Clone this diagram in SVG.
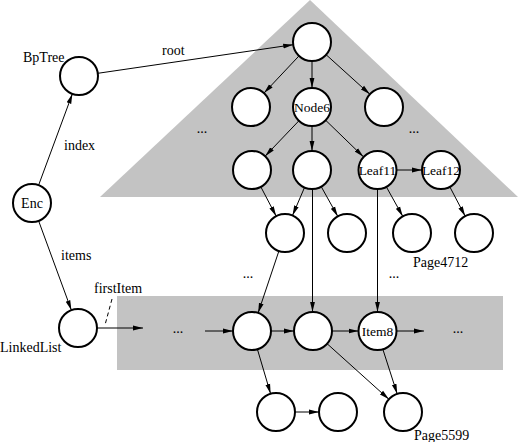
<svg xmlns="http://www.w3.org/2000/svg" width="519" height="442" viewBox="0 0 519 442">
<style>
.n{fill:#fff;stroke:#000;stroke-width:2}
.e{stroke:#000;stroke-width:1;fill:none}
.t{font-family:"Liberation Serif","Times New Roman",serif;font-size:14px;fill:#000}
.in{font-family:"Liberation Serif","Times New Roman",serif;font-size:13.5px;fill:#000;text-anchor:middle}
.d{text-anchor:middle}
</style>
<defs>
<marker id="a" markerWidth="10" markerHeight="6" refX="10" refY="3" orient="auto" markerUnits="userSpaceOnUse">
<path d="M0,0.6 L10,3 L0,5.4 Z" fill="#000"/>
</marker>
</defs>
<rect width="519" height="442" fill="#fff"/>
<g id="regions">
<polygon points="310,0 100,197 518,197" fill="#c3c3c3"/>
<rect x="117" y="296" width="386" height="74" fill="#c3c3c3"/>
</g>
<g id="connectors" class="e" marker-end="url(#a)">
<line x1="97.8" y1="73.3" x2="293.2" y2="44.7"/>
<line x1="38.6" y1="185.2" x2="72.4" y2="93.8"/>
<line x1="38.6" y1="220.8" x2="71.4" y2="310.2"/>
<line x1="299" y1="55.9" x2="264" y2="93.1"/>
<line x1="312" y1="61" x2="312" y2="88"/>
<line x1="326.1" y1="54.7" x2="369.9" y2="94.3"/>
<line x1="298.9" y1="120.8" x2="265.1" y2="156.2"/>
<line x1="312" y1="126" x2="312" y2="151"/>
<line x1="325.6" y1="120.2" x2="363.4" y2="156.8"/>
<line x1="396.5" y1="170" x2="422" y2="170"/>
<line x1="260.8" y1="186.8" x2="276.2" y2="216.2"/>
<line x1="304.5" y1="187.5" x2="292.5" y2="215.5"/>
<line x1="321.2" y1="186.6" x2="337.8" y2="216.4"/>
<line x1="312.5" y1="189" x2="312.5" y2="312"/>
<line x1="386.2" y1="186.6" x2="402.8" y2="216.4"/>
<line x1="377.5" y1="189" x2="377.5" y2="312"/>
<line x1="449.8" y1="186.8" x2="465.2" y2="216.2"/>
<line x1="278.9" y1="251" x2="258.1" y2="313"/>
<line x1="97" y1="328" x2="143" y2="328"/>
<line x1="205" y1="331" x2="233" y2="331"/>
<line x1="271" y1="331" x2="294" y2="331"/>
<line x1="332" y1="331" x2="358.5" y2="331"/>
<line x1="396.5" y1="331" x2="424" y2="331"/>
<line x1="257.4" y1="349.2" x2="270.6" y2="393.8"/>
<line x1="295" y1="412" x2="319" y2="412"/>
<line x1="327.1" y1="343.7" x2="388.9" y2="399.3"/>
<line x1="382.8" y1="349.1" x2="397.2" y2="393.9"/>
<line x1="112" y1="299" x2="105" y2="325" stroke-dasharray="4,3" marker-end="none"/>
</g>
<g id="BpTree"><circle class="n" cx="79" cy="76" r="19"/></g>
<g id="Enc"><circle class="n" cx="32" cy="203" r="19"/><text class="in" x="32" y="208" style="font-size:14px">Enc</text></g>
<g id="LinkedList"><circle class="n" cx="78" cy="328" r="19"/></g>
<g id="root"><circle class="n" cx="312" cy="42" r="19"/></g>
<g id="n2a"><circle class="n" cx="251" cy="107" r="19"/></g>
<g id="Node6"><circle class="n" cx="312" cy="107" r="19"/><text class="in" x="312" y="112">Node6</text></g>
<g id="n2c"><circle class="n" cx="384" cy="107" r="19"/></g>
<g id="n3a"><circle class="n" cx="252" cy="170" r="19"/></g>
<g id="n3b"><circle class="n" cx="312" cy="170" r="19"/></g>
<g id="Leaf11"><circle class="n" cx="377.5" cy="170" r="19"/><text class="in" x="377.5" y="175">Leaf11</text></g>
<g id="Leaf12"><circle class="n" cx="441" cy="170" r="19"/><text class="in" x="441" y="175">Leaf12</text></g>
<g id="n4a"><circle class="n" cx="285" cy="233" r="19"/></g>
<g id="n4b"><circle class="n" cx="347" cy="233" r="19"/></g>
<g id="n4c"><circle class="n" cx="412" cy="233" r="19"/></g>
<g id="n4d"><circle class="n" cx="474" cy="233" r="19"/></g>
<g id="n5a"><circle class="n" cx="252" cy="331" r="19"/></g>
<g id="n5b"><circle class="n" cx="313" cy="331" r="19"/></g>
<g id="Item8"><circle class="n" cx="377.5" cy="331" r="19"/><text class="in" x="377.5" y="336">Item8</text></g>
<g id="n6a"><circle class="n" cx="276" cy="412" r="19"/></g>
<g id="n6b"><circle class="n" cx="338" cy="412" r="19"/></g>
<g id="n6c"><circle class="n" cx="403" cy="412" r="19"/></g>
<g id="labels" class="t">
<text x="23" y="62">BpTree</text>
<text x="162" y="55">root</text>
<text x="64" y="150">index</text>
<text x="61" y="260">items</text>
<text x="94" y="293">firstItem</text>
<text x="0" y="352">LinkedList</text>
<text x="413" y="267">Page4712</text>
<text x="414" y="440">Page5599</text>
<text class="d" x="202" y="133">...</text>
<text class="d" x="414" y="133">...</text>
<text class="d" x="248" y="278">...</text>
<text class="d" x="394" y="278">...</text>
<text class="d" x="178" y="333">...</text>
<text class="d" x="458" y="333">...</text>
</g>
</svg>
